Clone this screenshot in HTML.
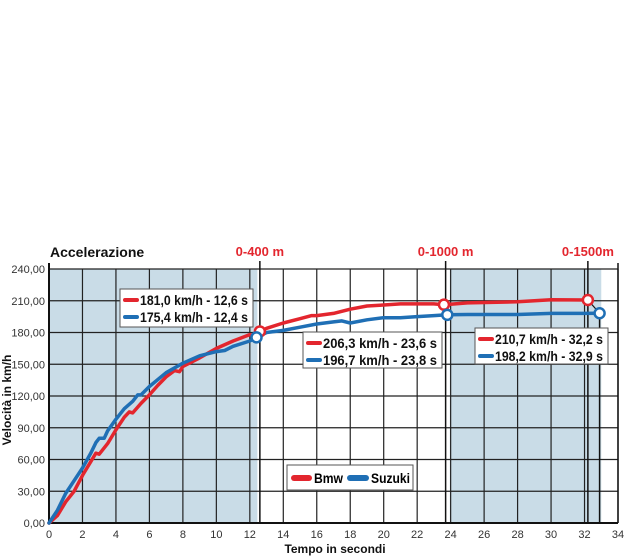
<!DOCTYPE html>
<html><head><meta charset="utf-8"><style>
body{margin:0;background:#fff;width:630px;height:558px;overflow:hidden}
svg{display:block;font-family:"Liberation Sans",sans-serif}
.tk{font-size:11px;fill:#333}
</style></head><body>
<svg id="c" width="630" height="558" viewBox="0 0 630 558"></svg>
<script>
const xTicks=[0,2,4,6,8,10,12,14,16,18,20,22,24,26,28,30,32,34];
const yTicks=[0,30,60,90,120,150,180,210,240];
const yTickLabels=["0,00","30,00","60,00","90,00","120,00","150,00","180,00","210,00","240,00"];
const bmwT=[0,0.5,1,1.5,2,2.5,2.8,3,3.5,4,4.5,4.8,5,5.5,6,6.5,7,7.5,7.8,8,9,10,11,12,12.3,12.6,13,14,15,15.7,16,17,18,19,20,21,22,23,23.6,25,28,30,32.2];
const bmwV=[0,7,20,30,45,58,66,65,75,88,100,105,104,113,121,130,138,144,143,148,156,165,172,178,177,181,184,189,193,196,196,198,202,205,206,207,207,207,206.3,208,209,211,210.7];
const suzT=[0,0.5,1,1.5,2,2.5,2.8,3,3.3,3.5,4,4.5,5,5.3,5.5,6,7,8,9,10,10.5,11,12,12.4,13,14,15,16,17,17.5,18,19,20,21,22,23,23.8,25,28,30,32,32.9];
const suzV=[0,12,28,40,52,66,76,80,80,87,98,108,115,121,121,129,142,151,158,162,163,167,172,175.4,180,182,185,188,190,191,189,192,194,194,195,196,196.7,197,197,198,198,198.2];
const markT=[12.6,12.4,23.6,23.8,32.2,32.9];
const markV=[181,175.4,206.3,196.7,210.7,198.2];
const markSeries=["bmw","suz","bmw","suz","bmw","suz"];
const shadeRanges=[[0,12.45],[23.95,33]];
const distT=[12.6,23.7,32.2];
const distLabels=["0-400 m","0-1000 m","0-1500m"];

const X0=49,X1=618,Y0=523,Y1=269;
const sx=t=>X0+t*(X1-X0)/34, sy=v=>Y0-v*(Y0-Y1)/240;
const svg=document.getElementById('c');const NS='http://www.w3.org/2000/svg';
function mk(tag,a,txt){const e=document.createElementNS(NS,tag);for(const k in a)e.setAttribute(k,a[k]);if(txt!=null)e.textContent=txt;svg.appendChild(e);return e;}
const C={bmw:'#e3262e',suz:'#1f6fb5'};

shadeRanges.forEach(r=>{const e=mk('rect',{x:sx(r[0]),y:Y1,width:sx(r[1])-sx(r[0]),height:Y0-Y1,fill:'#c9dce7'});

});
xTicks.forEach(t=>{const e=mk('line',{x1:sx(t),x2:sx(t),y1:Y1,y2:Y0,stroke:'#222','stroke-width':1.2});


const l=mk('text',{x:sx(t),y:Y0+15,class:'tk','text-anchor':'middle'},t);

});
yTicks.forEach((v,i)=>{const e=mk('line',{x1:X0,x2:X1,y1:sy(v),y2:sy(v),stroke:'#222','stroke-width':1.2});


const l=mk('text',{x:X0-4,y:sy(v)+4,class:'tk','text-anchor':'end'},yTickLabels[i]);

});
mk('line',{x1:X0,x2:X0,y1:Y1-6,y2:Y0+1,stroke:'#111','stroke-width':2});
mk('line',{x1:X0,x2:X1,y1:Y0,y2:Y0,stroke:'#111','stroke-width':2});
mk('line',{x1:X1,x2:X1,y1:Y1-6,y2:Y0,stroke:'#111','stroke-width':1.5});
distT.forEach((t,i)=>{const e=mk('line',{x1:sx(t),x2:sx(t),y1:261,y2:Y0,stroke:'#111','stroke-width':1.5});


const l=mk('text',{x:sx(t),y:256,'text-anchor':'middle','font-size':13,'font-weight':'bold',fill:'#e3262e'},distLabels[i]);

});
mk('line',{x1:sx(32.9),x2:sx(32.9),y1:sy(198.2),y2:Y0,stroke:'#111','stroke-width':1.5});
mk('line',{x1:sx(32.2),y1:sy(210.7),x2:sx(32.9),y2:sy(198.2),stroke:'#111','stroke-width':1.2});

function line(T,V,col,name){const d=T.map((t,i)=>(i?'L':'M')+sx(t).toFixed(1)+','+sy(V[i]).toFixed(1)).join('');
const e=mk('path',{d:d,fill:'none',stroke:col,'stroke-width':3.5,'stroke-linejoin':'round','stroke-linecap':'round'});

}
line(bmwT,bmwV,C.bmw,'bmw-line');line(suzT,suzV,C.suz,'suzuki-line');
markT.forEach((t,i)=>{const e=mk('circle',{cx:sx(t),cy:sy(markV[i]),r:5,fill:'#fff',stroke:C[markSeries[i]],'stroke-width':2.5});

});

function box(x,y,w,h,rows,name){const g=mk('rect',{x:x,y:y,width:w,height:h,fill:'#fff',stroke:'#555','stroke-width':1});


rows.forEach((r,i)=>{const yy=y+11+i*17;mk('line',{x1:x+5,x2:x+17,y1:yy,y2:yy,stroke:C[r[0]],'stroke-width':4,'stroke-linecap':'round'});
const t=mk('text',{x:x+20,y:yy+5,'font-size':13.5,'font-weight':'bold',fill:'#111',textLength:w-25,lengthAdjust:'spacingAndGlyphs'},r[1]);

});}
box(120,289,133,38,[['bmw','181,0 km/h - 12,6 s'],['suz','175,4 km/h - 12,4 s']],'annotation-400m');
box(303,332,139,36,[['bmw','206,3 km/h - 23,6 s'],['suz','196,7 km/h - 23,8 s']],'annotation-1000m');
box(475,328,133,36,[['bmw','210,7 km/h - 32,2 s'],['suz','198,2 km/h - 32,9 s']],'annotation-1500m');

const lg=mk('rect',{x:287,y:465,width:126,height:25,fill:'#fff',stroke:'#555'});


mk('line',{x1:294,x2:309,y1:478,y2:478,stroke:C.bmw,'stroke-width':6,'stroke-linecap':'round'});
const l1=mk('text',{x:314,y:483,'font-size':13.5,'font-weight':'bold',textLength:29,lengthAdjust:'spacingAndGlyphs'},'Bmw');


mk('line',{x1:350,x2:366,y1:478,y2:478,stroke:C.suz,'stroke-width':6,'stroke-linecap':'round'});
const l2=mk('text',{x:371,y:483,'font-size':13.5,'font-weight':'bold',textLength:39,lengthAdjust:'spacingAndGlyphs'},'Suzuki');



const ti=mk('text',{x:50,y:257,'font-size':14,'font-weight':'bold',fill:'#111'},'Accelerazione');


const xt=mk('text',{x:335,y:553,'font-size':12,'font-weight':'bold','text-anchor':'middle',fill:'#111'},'Tempo in secondi');


const yt=mk('text',{x:0,y:0,'font-size':12,'font-weight':'bold','text-anchor':'middle',fill:'#111',transform:'translate(11,400) rotate(-90)'},'Velocità in km/h');


</script>
</body></html>
